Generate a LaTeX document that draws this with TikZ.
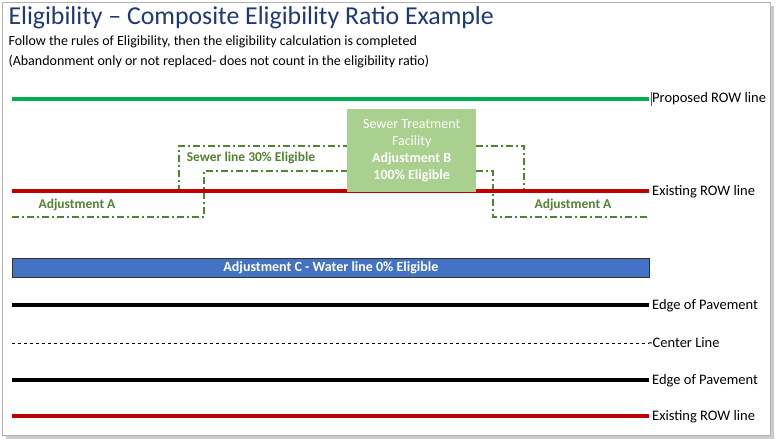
\documentclass[tikz,border=0pt]{standalone}
\usepackage{fontspec}
\setmainfont{Carlito}
\usetikzlibrary{positioning}
\definecolor{titleblue}{RGB}{31,56,120}
\definecolor{rowgreen}{RGB}{0,176,80}
\definecolor{rowred}{RGB}{192,0,0}
\definecolor{adjgreen}{RGB}{84,130,53}
\definecolor{boxgreen}{RGB}{169,208,142}
\definecolor{pipeblue}{RGB}{68,114,196}
\tikzset{
  rowline/.style={line width=3.2pt},
  adjline/.style={adjgreen, line width=1.6pt, dash pattern=on 7pt off 3pt on 2pt off 3pt},
  linelabel/.style={right, inner sep=1pt, font=\fontsize{14.5}{16}\selectfont},
  adjlabel/.style={adjgreen, font=\bfseries\fontsize{13.5}{16}\selectfont}
}
\begin{document}
\begin{tikzpicture}[x=1pt,y=-1pt]
\useasboundingbox (0,0) rectangle (780,441);
\fill[gray!40] (6,6) rectangle (774,439);
\fill[white,draw=gray!60] (2,2) rectangle (770,435);
% heading
\node[anchor=west, titleblue, font=\fontsize{25.8}{28}\selectfont] (title) at (5,18) {Eligibility -- Composite Eligibility Ratio Example};
\node[anchor=west, font=\fontsize{14}{20}\selectfont, align=left] (rules) at (5,52) {Follow the rules of Eligibility, then the eligibility calculation is completed\\(Abandonment only or not replaced- does not count in the eligibility ratio)};
% right-of-way lines
\draw[rowgreen, rowline] (12,99) coordinate (p0) -- (649,99) coordinate (p1);
\draw[gray!70!black, thick] (651,92) -- (651,106);
\node[linelabel] (proposed) at (651,99) {Proposed ROW line};
% sewer work outlines
\draw[adjline] (12,190) -- (179,190) -- (179,146) -- (347,146);
\draw[adjline] (476,146) -- (524,146) -- (524,190) -- (649,190);
\draw[adjline] (12,217) -- (204,217) -- (204,171) -- (347,171);
\draw[adjline] (476,171) -- (493,171) -- (493,217) -- (649,217);
\draw[rowred, rowline] (12,191) -- (649,191);
\node[linelabel] (exist1) at (651,192) {Existing ROW line};
\node[fill=boxgreen, minimum width=129pt, minimum height=83pt, anchor=north west, text=white, align=center, font=\fontsize{14}{17}\selectfont] (plant) at (347,109)
  {Sewer Treatment\\Facility\\\textbf{Adjustment B}\\\textbf{100\% Eligible}};
\node[adjlabel] (sewer) at (251,158) {Sewer line 30\% Eligible};
\node[adjlabel] (adjA1) at (77,205) {Adjustment A};
\node[adjlabel] (adjA2) at (573,205) {Adjustment A};
% water line
\node[fill=pipeblue, draw=black!80, thick, minimum width=637pt, minimum height=19pt, anchor=north west, inner sep=0pt] (water) at (12,258) {};
\node[text=white, font=\bfseries\fontsize{14}{16}\selectfont] at (water.center) {Adjustment C - Water line 0\% Eligible};
% roadway
\draw[black, rowline] (12,305) -- (649,305);
\node[linelabel] (edge1) at (651,306) {Edge of Pavement};
\draw[black, dashed, thick] (12,343) -- (649,343);
\node[linelabel] (center) at (647,343) {-Center Line};
\draw[black, rowline] (12,380) -- (649,380);
\node[linelabel] (edge2) at (651,381) {Edge of Pavement};
\draw[rowred, rowline] (12,416) -- (649,416);
\node[linelabel] (exist2) at (651,417) {Existing ROW line};
\end{tikzpicture}
\end{document}
